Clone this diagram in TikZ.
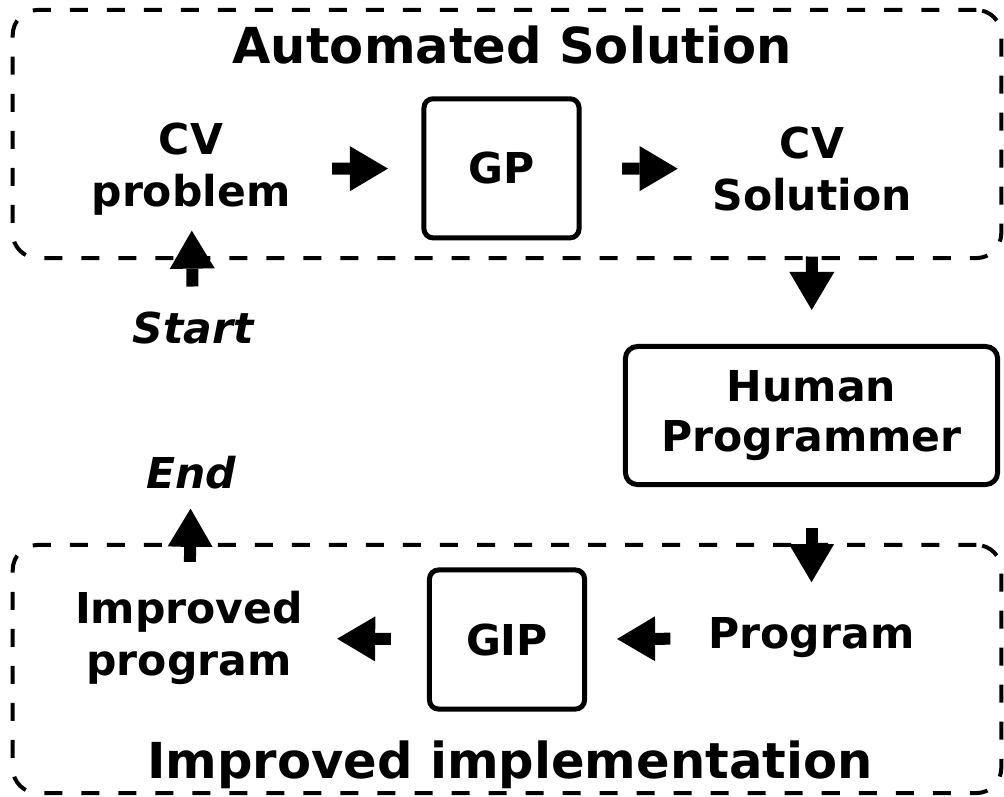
\documentclass[tikz,border=0pt]{standalone}
\usepackage{fontspec}
\setmainfont{DejaVu Sans}[BoldFont={DejaVu Sans Bold}, ItalicFont={DejaVu Sans Oblique}, BoldItalicFont={DejaVu Sans Bold Oblique}]
\usetikzlibrary{arrows.meta}

\begin{document}
\begin{tikzpicture}[x=0.01cm,y=-0.01cm]
	% sizes of the boxes
	\def\boxw{1.55cm}
	\def\boxh{1.39cm}
	\def\grpw{9.88cm}
	\def\grph{2.48cm}
	% node style definition
	\tikzstyle{group} = [draw, line width=0.04cm, dash pattern=on 0.18cm off 0.19cm, rounded corners=0.25cm, rectangle, minimum width=\grpw, minimum height=\grph];
	\tikzstyle{proc} = [draw, line width=0.05cm, rounded corners=0.09cm, rectangle, align=center, minimum width=\boxw, minimum height=\boxh, font=\fontsize{12.1}{14.4}\selectfont\bfseries];
	\tikzstyle{txt} = [align=center, inner sep=0pt, font=\fontsize{12.1}{14.6}\selectfont\bfseries];
	\tikzstyle{endpt} = [inner sep=0pt, font=\fontsize{12.1}{14.6}\selectfont\bfseries\itshape];
	\tikzstyle{heading} = [inner sep=0pt, font=\fontsize{14.1}{17}\selectfont\bfseries];
	\tikzstyle{flow} = [line width=0.12cm, -{Triangle[length=0.38cm, width=0.45cm, line width=0pt]}];
	\useasboundingbox (0,0) rectangle (1004,796);
	% the two dashed groups
	\node[group] (autogrp) at (507,134) { };
	\node[group] (implgrp) at (507,669) { };
	\node[heading] (autotitle) at (512,45) {Automated Solution};
	\node[heading] (impltitle) at (510,765) {Improved implementation};
	% top row
	\node[txt] (problem) at (191,169) {CV\\problem};
	\node[proc] (gp) at (501.5,168.3) {GP};
	\node[txt] (solution) at (812,169) {CV\\Solution};
	\node[endpt] (start) at (193,328) {Start};
	% programmer
	\node[proc, minimum width=3.72cm, minimum height=1.38cm, rounded corners=0.12cm] (human) at (811.5,415.5) {Human\\Programmer};
	\node[txt] (program) at (811.5,638) {Program};
	\node[proc] (gip) at (507,639.5) {GIP};
	\node[txt] (improved) at (189,638) {Improved\\program};
	\node[endpt] (end) at (191,473) {End};
	% connectors
	\draw[flow, shorten <=0.41cm, shorten >=0.335cm] (problem) -- (gp);
	\draw[flow, shorten <=0.405cm, shorten >=0.34cm] (gp) -- (solution);
	\draw[flow, shorten <=0.45cm, shorten >=0.34cm] (solution) -- (human);
	\draw[flow, shorten <=0.41cm, shorten >=0.35cm] (human) -- (program);
	\draw[flow, shorten <=0.375cm, shorten >=0.30cm] (program) -- (gip);
	\draw[flow, shorten <=0.36cm, shorten >=0.335cm] (gip) -- (improved);
	\draw[flow, shorten <=0.29cm, shorten >=0.185cm] (improved) -- (end);
	\draw[flow, shorten <=0.247cm, shorten >=0.15cm] (start) -- (problem);
\end{tikzpicture}
\end{document}
